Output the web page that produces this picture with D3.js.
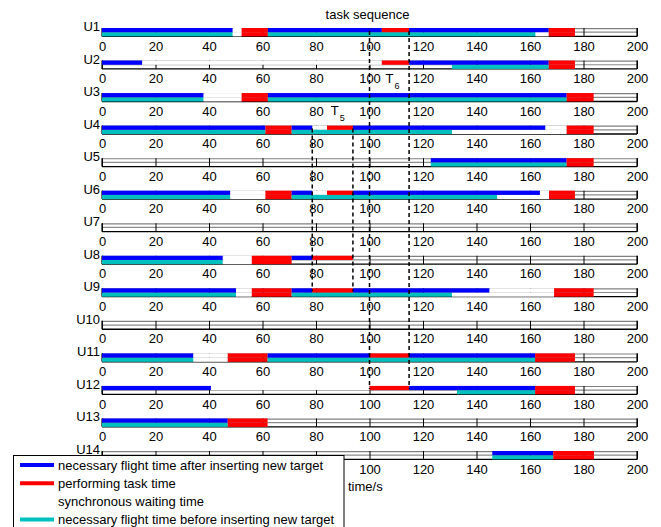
<!DOCTYPE html>
<html>
<head>
<meta charset="utf-8">
<script src="https://cdn.jsdelivr.net/npm/d3@7"></script>
<style>
  html, body { margin: 0; padding: 0; background: #fff; }
  svg { display: block; font-family: "Liberation Sans", Arial, sans-serif; }
</style>
</head>
<body>
<svg id="chart" width="661" height="527"></svg>
<script>
// Units (one timeline strip each)
const units = ["U1","U2","U3","U4","U5","U6","U7","U8","U9","U10","U11","U12","U13","U14"];
const tickValues = [0, 20, 40, 60, 80, 100, 120, 140, 160, 180, 200];

// Upper lane: schedule after inserting the new targets  [row, start, end, kind]
const afterInsert = [
  [0, 0, 48.8, "flight"], [0, 48.8, 52.2, "wait"], [0, 52.2, 62, "task"], [0, 62, 104.6, "flight"],
  [0, 104.6, 114.8, "task"], [0, 114.8, 167, "flight"], [0, 167, 176.8, "task"],
  [1, 0, 15, "flight"], [1, 15, 104.6, "wait"], [1, 104.6, 114.8, "task"], [1, 114.8, 167, "flight"], [1, 167, 176.8, "task"],
  [2, 0, 37.9, "flight"], [2, 37.9, 52.2, "wait"], [2, 52.2, 62, "task"], [2, 62, 173.7, "flight"], [2, 173.7, 183.8, "task"],
  [3, 0, 61.1, "flight"], [3, 61.1, 70.9, "task"], [3, 70.9, 78.6, "flight"], [3, 78.6, 84.1, "wait"],
  [3, 84.1, 93.8, "task"], [3, 93.8, 165.7, "flight"], [3, 165.7, 173.7, "wait"], [3, 173.7, 183.8, "task"],
  [4, 122.9, 173.7, "flight"], [4, 173.7, 183.8, "task"],
  [5, 0, 47.9, "flight"], [5, 47.9, 61.1, "wait"], [5, 61.1, 70.9, "task"], [5, 70.9, 78.6, "flight"],
  [5, 78.6, 84.1, "wait"], [5, 84.1, 93.8, "task"], [5, 93.8, 163.7, "flight"], [5, 163.7, 167.1, "wait"], [5, 167.1, 176.8, "task"],
  [7, 0, 45.1, "flight"], [7, 45.1, 56, "wait"], [7, 56, 70.9, "task"], [7, 70.9, 78.6, "flight"], [7, 78.6, 93.8, "task"],
  [8, 0, 50.1, "flight"], [8, 50.1, 56, "wait"], [8, 56, 70.9, "task"], [8, 70.9, 78.6, "flight"], [8, 78.6, 93.8, "task"],
  [8, 93.8, 144.8, "flight"], [8, 144.8, 169, "wait"], [8, 169, 183.8, "task"],
  [10, 0, 34.1, "flight"], [10, 34.1, 47, "wait"], [10, 47, 61.9, "task"], [10, 61.9, 100, "flight"],
  [10, 100, 114.8, "task"], [10, 114.8, 161.9, "flight"], [10, 161.9, 176.8, "task"],
  [11, 0, 40.7, "flight"], [11, 40.7, 100, "wait"], [11, 100, 114.8, "task"], [11, 114.8, 161.9, "flight"], [11, 161.9, 176.8, "task"],
  [12, 0, 47, "flight"], [12, 47, 61.9, "task"],
  [13, 145.9, 168.7, "flight"], [13, 168.7, 183.9, "task"]
];

// Lower lane: schedule before inserting the new targets  [row, start, end, kind]
const beforeInsert = [
  [0, 0, 48.8, "flight"], [0, 48.8, 52.2, "wait"], [0, 52.2, 62, "task"], [0, 62, 162, "flight"], [0, 162, 167, "wait"], [0, 167, 176.8, "task"],
  [1, 130.8, 167, "flight"], [1, 167, 176.8, "task"],
  [2, 0, 37.9, "flight"], [2, 37.9, 52.2, "wait"], [2, 52.2, 62, "task"], [2, 62, 173.7, "flight"], [2, 173.7, 183.8, "task"],
  [3, 0, 61.1, "flight"], [3, 61.1, 70.9, "task"], [3, 70.9, 130.8, "flight"], [3, 130.8, 173.7, "wait"], [3, 173.7, 183.8, "task"],
  [4, 122.9, 173.7, "flight"], [4, 173.7, 183.8, "task"],
  [5, 0, 47.9, "flight"], [5, 47.9, 61.1, "wait"], [5, 61.1, 70.9, "task"], [5, 70.9, 147.7, "flight"], [5, 147.7, 167.1, "wait"], [5, 167.1, 176.8, "task"],
  [7, 0, 45.1, "flight"], [7, 45.1, 56, "wait"], [7, 56, 70.9, "task"],
  [8, 0, 50.1, "flight"], [8, 50.1, 56, "wait"], [8, 56, 70.9, "task"], [8, 70.9, 130.8, "flight"], [8, 130.8, 169, "wait"], [8, 169, 183.8, "task"],
  [10, 0, 34.1, "flight"], [10, 34.1, 47, "wait"], [10, 47, 61.9, "task"], [10, 61.9, 161.9, "flight"], [10, 161.9, 176.8, "task"],
  [11, 132.7, 161.9, "flight"], [11, 161.9, 176.8, "task"],
  [12, 0, 47, "flight"], [12, 47, 61.9, "task"],
  [13, 145.9, 168.7, "flight"], [13, 168.7, 183.9, "task"]
];

// Newly inserted targets T5 and T6
const newTaskIndex = ["5", "6"];
const newTaskStart = [78.6, 100];
const newTaskEnd   = [93.8, 114.8];
const newTaskFirstRow = [3, 0];
const newTaskLastRow  = [8, 11];
const newTaskLabelRow = [2, 1];
const newTaskLabelAt  = [85.5, 106];

// Legend entries
const legendLabels = [
  "necessary flight time after inserting new target",
  "performing task time",
  "synchronous waiting time",
  "necessary flight time before inserting new target"
];
const legendColors = ["#0000ff", "#ff0000", "#ffffff", "#00bfbf"];

const colorUpper = { flight: "#0000ff", task: "#ff0000", wait: "#ffffff" };
const colorLower = { flight: "#00bfbf", task: "#ff0000", wait: "#ffffff" };

const svg = d3.select("#chart");
const font = 13;

const x = d3.scaleLinear().domain([0, 200]).range([102, 637]);
const rowTop = d3.scalePoint().domain(d3.range(units.length)).range([28, 451]);
const stripH = 8.4;
const half = stripH / 2;

// Legend box geometry (the last strip's left labels sit beneath it)
const legendX = 13.5, legendY = 455.5, legendW = 330.5;

// Strip backgrounds
const rows = svg.append("g").selectAll("g.row").data(units).join("g")
  .attr("class", "row")
  .attr("transform", (d, i) => `translate(0,${rowTop(i)})`);

rows.append("rect")
  .attr("x", x(0)).attr("y", 0)
  .attr("width", x(200) - x(0)).attr("height", stripH)
  .attr("fill", "#fff");

// Waiting segments (white) sit beneath the guide lines
const segG = svg.append("g");
function drawSegments(data, lane, colors, filter) {
  segG.selectAll(null).data(data.filter(filter)).join("rect")
    .attr("x", d => x(d[1]))
    .attr("y", d => rowTop(d[0]) + (lane === 0 ? 0 : half))
    .attr("width", d => x(d[2]) - x(d[1]))
    .attr("height", half)
    .attr("fill", d => colors[d[3]]);
}
drawSegments(afterInsert, 0, colorUpper, d => d[3] === "wait");
drawSegments(beforeInsert, 1, colorLower, d => d[3] === "wait");

// Guide lines inside each strip
rows.append("line")
  .attr("x1", x(0)).attr("x2", x(200)).attr("y1", 0.6).attr("y2", 0.6)
  .attr("stroke", "#808080").attr("stroke-width", 1.2);
rows.append("line")
  .attr("x1", x(0)).attr("x2", x(200)).attr("y1", half).attr("y2", half)
  .attr("stroke", "#8a8a8a").attr("stroke-width", 1.2);

// Axes: ticks span the strip, labels below
rows.each(function (d, i) {
  const g = d3.select(this).append("g")
    .attr("transform", `translate(0,${stripH})`)
    .call(d3.axisBottom(x).tickValues(tickValues).tickSize(-stripH).tickSizeOuter(0).tickPadding(5));
  g.select(".domain").remove();
  g.selectAll(".tick line").attr("stroke", "#000");
  g.selectAll(".tick text")
    .attr("font-family", "Liberation Sans, Arial, sans-serif")
    .attr("font-size", font).attr("fill", "#000");
  // labels of the last strip that fall under the legend box are covered
  if (i === units.length - 1) {
    g.selectAll(".tick text").filter(v => x(v) < legendX + legendW).remove();
  }
});

// Flight and task bars
const barG = svg.append("g");
function drawBars(data, lane, colors) {
  barG.selectAll(null).data(data.filter(d => d[3] !== "wait")).join("rect")
    .attr("x", d => x(d[1]))
    .attr("y", d => rowTop(d[0]) + (lane === 0 ? 0 : half))
    .attr("width", d => x(d[2]) - x(d[1]))
    .attr("height", half)
    .attr("fill", d => colors[d[3]]);
}
drawBars(beforeInsert, 1, colorLower);
drawBars(afterInsert, 0, colorUpper);

// Strip frames
rows.append("line")
  .attr("x1", x(0)).attr("x2", x(200)).attr("y1", stripH).attr("y2", stripH)
  .attr("stroke", "#000").attr("stroke-width", 1.3);
rows.append("line")
  .attr("x1", x(0)).attr("x2", x(0)).attr("y1", 0).attr("y2", stripH)
  .attr("stroke", "#000").attr("stroke-width", 1.2);
rows.append("line")
  .attr("x1", x(200)).attr("x2", x(200)).attr("y1", 0).attr("y2", stripH)
  .attr("stroke", "#000").attr("stroke-width", 1.2);

// Row labels
rows.append("text")
  .attr("x", 100).attr("y", 3)
  .attr("text-anchor", "end")
  .attr("font-size", font)
  .text(d => d);

// Dashed markers for the inserted targets
const markG = svg.append("g");
newTaskIndex.forEach((k, i) => {
  const y1 = rowTop(newTaskFirstRow[i]) + 3;
  const y2 = rowTop(newTaskLastRow[i]) + 3;
  [newTaskStart[i], newTaskEnd[i]].forEach(v => {
    markG.append("line")
      .attr("x1", x(v)).attr("x2", x(v)).attr("y1", y1).attr("y2", y2)
      .attr("stroke", "#000").attr("stroke-width", 1.5)
      .attr("stroke-dasharray", "4,3");
  });
  const ly = rowTop(newTaskLabelRow[i]) + stripH + 14;
  const t = markG.append("text")
    .attr("x", x(newTaskLabelAt[i])).attr("y", ly)
    .attr("font-size", font);
  t.append("tspan").text("T");
  t.append("tspan").attr("dx", 1).attr("dy", 6).attr("font-size", 9).text(k);
});

// Title
svg.append("text")
  .attr("x", x(100) - 2).attr("y", 19)
  .attr("text-anchor", "middle")
  .attr("font-size", font)
  .text("task sequence");

// x label
svg.append("text")
  .attr("x", 348).attr("y", 491)
  .attr("font-size", font)
  .text("time/s");

// Legend
const leg = svg.append("g");
leg.append("rect")
  .attr("x", legendX).attr("y", legendY)
  .attr("width", legendW).attr("height", 80)
  .attr("fill", "#fff").attr("stroke", "#000").attr("stroke-width", 1);
legendLabels.forEach((label, i) => {
  const ly = 465 + i * 18.2;
  leg.append("line")
    .attr("x1", 20).attr("x2", 54).attr("y1", ly).attr("y2", ly)
    .attr("stroke", legendColors[i]).attr("stroke-width", 4);
  leg.append("text")
    .attr("x", 58).attr("y", ly + 4.6)
    .attr("font-size", font)
    .text(label);
});
</script>
</body>
</html>
